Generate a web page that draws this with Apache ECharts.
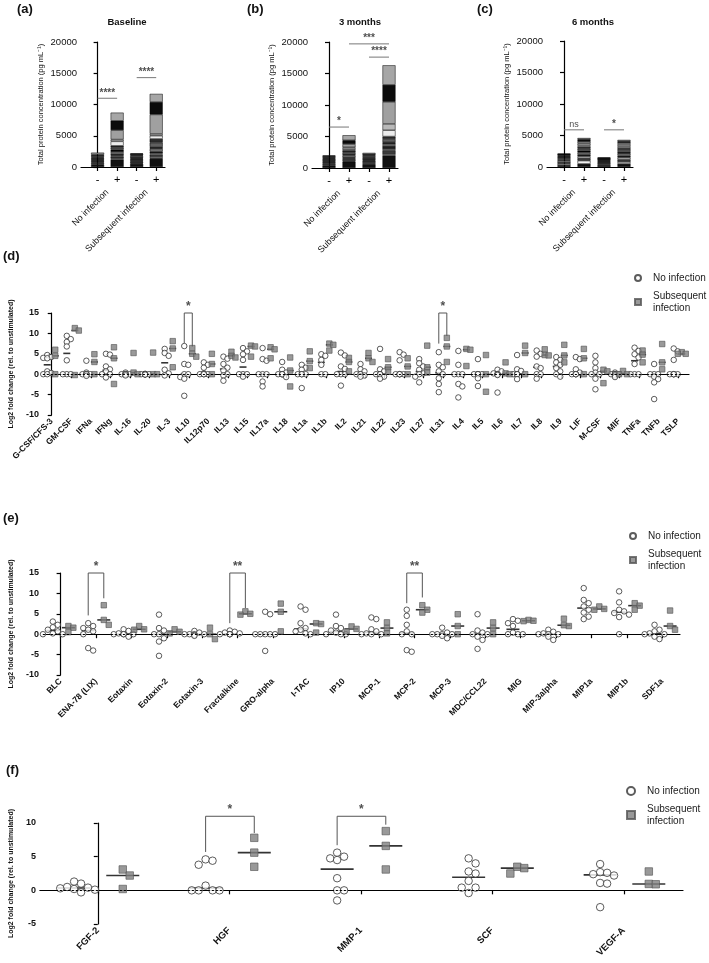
<!DOCTYPE html>
<html>
<head>
<meta charset="UTF-8">
<title>cytokine panels</title>
<script src="https://cdn.jsdelivr.net/npm/echarts@6/dist/echarts.min.js"></script>
<style>
html, body { margin: 0; padding: 0; background: #fff; }
#fig { width: 709px; height: 963px; }
</style>
</head>
<body>
<div id="fig"></div>
<script>
// ---------- (a)-(c) stacked totals ----------
var barCats = ['-', '+', '-', '+'];
var groupCats = ['No infection', 'Subsequent infection'];
var segColors = ['#111111', '#f2f2f2', '#3c3c3c', '#d6d6d6', '#1e1e1e', '#8a8a8a', '#050505',
                 '#606060', '#2c2c2c', '#ececec', '#b8b8b8', '#a0a0a0', '#0b0b0b', '#a6a6a6'];
// segment values bottom -> top, one list per bar
var baseSegs = [
    [400, 100, 200, 100, 150, 100, 150, 100, 150, 100, 150, 100, 200, 300],
    [1200, 150, 300, 150, 300, 300, 400, 300, 300, 700, 300, 1500, 1500, 1300],
    [500, 100, 200, 100, 150, 100, 150, 100, 150, 100, 150, 100, 200, 100],
    [1400, 200, 400, 200, 300, 400, 300, 700, 600, 500, 300, 3100, 2000, 1300]
];
var m3Segs = [
    [400, 100, 200, 100, 150, 100, 150, 100, 150, 100, 100, 100, 150, 100],
    [1000, 100, 300, 100, 200, 300, 200, 300, 300, 200, 300, 500, 600, 800],
    [600, 100, 200, 100, 150, 100, 150, 100, 150, 100, 150, 100, 200, 200],
    [2000, 200, 600, 200, 500, 300, 300, 500, 400, 1000, 1000, 3500, 2700, 3100]
];
var m6Segs = [
    [300, 200, 300, 200, 200, 150, 200, 100, 100, 100, 100, 50, 50, 50],
    [500, 500, 400, 300, 300, 300, 300, 300, 300, 200, 300, 300, 400, 200],
    [300, 100, 200, 100, 100, 100, 100, 100, 100, 50, 50, 50, 100, 50],
    [500, 300, 400, 300, 300, 300, 300, 300, 300, 200, 300, 300, 300, 200]
];
// [from bar, to bar, height, text]
var baseSig = [[0, 1, 11000, '****'], [2, 3, 14300, '****']];
var m3Sig = [[0, 1, 6500, '*'], [1, 3, 19700, '***'], [2, 3, 17600, '****']];
var m6Sig = [[0, 1, 5900, 'ns'], [2, 3, 5900, '*']];

// ---------- (d) ----------
var dCats = ['G-CSF/CFS-3', 'GM-CSF', 'IFNa', 'IFNg', 'IL-16', 'IL-20', 'IL-3', 'IL10', 'IL12p70', 'IL13',
             'IL15', 'IL17a', 'IL18', 'IL1a', 'IL1b', 'IL2', 'IL21', 'IL22', 'IL23', 'IL27', 'IL31', 'IL4',
             'IL5', 'IL6', 'IL7', 'IL8', 'IL9', 'LIF', 'M-CSF', 'MIF', 'TNFa', 'TNFb', 'TSLP'];
var dNone = [
    [4.7, 4.2, 4.0, 3.9, 0.7, 0.3, 0, 0], [9.4, 8.6, 7.9, 6.8, 3.4, 0, 0, 0], [3.3, 0.4, 0, 0, 0, -0.4, 0, 0],
    [5.0, 4.8, 1.9, 1.2, 0.7, 0, -0.8, 0], [0.4, 0, 0, -0.3, 0, 0, 0, 0], [0.1, 0, 0, 0, 0, 0, -0.1, 0],
    [6.2, 5.2, 4.5, 1.1, 0.2, -0.3], [6.9, 2.5, 2.3, 0, -0.7, -1.1, -5.3, 0], [2.9, 2.3, 1.6, 0.2, 0, 0, 0, 0],
    [4.3, 3.8, 2.5, 1.6, 0.9, -0.3, -1.6, 0], [6.4, 5.6, 4.9, 3.5, 0, -0.6, 0, 0], [6.4, 3.7, 3.3, 0, -1.8, -3.0, 0, 0],
    [3.0, 1.1, 0.4, 0, -0.7, 0, 0, 0], [2.3, 1.6, 1.1, 0, -3.4, 0, 0, 0], [4.9, 4.5, 3.5, 2.3, 0, 0],
    [5.3, 4.6, 1.9, 1.3, 0, -2.8, 0, 0], [2.5, 1.2, 0.7, 0, 0, -0.3, -0.6, 0], [6.2, 1.2, 0.7, -0.6, -1.1, 0, 0, 0],
    [5.4, 4.8, 3.4, 0, 0, 0, 0, 0], [3.7, 2.7, 1.9, 1.1, 0.2, -0.6, -2.0, 0], [5.4, 2.3, 1.7, 0.7, -1.0, -2.4, -4.4, 0],
    [5.7, 2.3, 0, -2.4, -3.0, -5.7, 0, 0], [3.7, 0, -1.0, -2.9, 0, 0, 0, 0], [1.1, 0.7, 0.2, -0.2, -4.5, 0, 0, 0],
    [4.7, 1.2, 0.8, 0, -1.2, 0, 0, 0], [5.8, 5.0, 4.3, 1.9, 1.5, -1.1, 0, 0], [4.2, 3.5, 2.9, 2.3, 1.5, 0.7, -0.6, 0],
    [4.2, 3.7, 1.2, 0.4, 0, 0, 0, 0], [4.5, 2.9, 1.5, 0.4, 0, -1.1, -3.7, 0], [0.4, 0, -0.3, -0.7, 0, 0, 0, 0],
    [6.5, 5.7, 4.9, 4.1, 2.5, 0, 0, 0], [2.5, 0, -0.6, -1.2, -2.0, -6.1, 0, 0], [6.3, 5.6, 3.5, 0, 0, 0, 0, 0]
];
var dSub = [
    [6.0, 4.5, 0], [11.3, 10.7, -0.2], [4.9, 3.0, 0], [6.6, 3.9, -2.4], [5.2, 0.4, 0], [5.3, 0, 0],
    [8.1, 6.3, 1.7], [6.4, 5.0, 4.3], [5.0, 2.5, 0], [5.5, 4.5, 4.1], [7.0, 6.8, 4.3], [6.6, 6.1, 3.9],
    [4.1, 0.9, -3.0], [5.6, 3.2, 1.5], [7.5, 7.2, 5.8], [4.0, 3.0, 0.7], [5.2, 3.9, 3.0], [3.7, 1.7, 0.6],
    [3.9, 1.9, 0], [7.0, 1.7, 0.4], [8.9, 6.8, 3.0], [6.2, 6.0, 2.0], [4.7, 0, -4.3], [2.9, 0.2, 0],
    [7.0, 5.2, 0], [6.1, 4.7, 4.6], [7.2, 4.6, 2.9], [6.2, 3.9, 0], [1.1, 0.7, -2.2], [0.8, 0, 0],
    [5.8, 4.8, 2.9], [7.4, 2.9, 1.2], [5.4, 5.0, 5.0]
];
// [category, left foot, right foot, top, text]
var dSig = [[7, 7.6, 6.8, 15, '*'], [20, 7.5, 9.4, 15, '*']];

// ---------- (e) ----------
var eCats = ['BLC', 'ENA-78 (LIX)', 'Eotaxin', 'Eotaxin-2', 'Eotaxin-3', 'Fractalkine', 'GRO-alpha', 'I-TAC',
             'IP10', 'MCP-1', 'MCP-2', 'MCP-3', 'MDC/CCL22', 'MIG', 'MIP-3alpha', 'MIP1a', 'MIP1b', 'SDF1a'];
var eNone = [
    [3.1, 2.3, 1.7, 1.1, 0.7, 0.2, 0, 0], [2.7, 2.0, 1.5, 1.1, 0.7, 0, -3.4, -4.0], [1.2, 0.8, 0.2, 0, -0.6, 0, 0, 0],
    [4.8, 1.5, 0.9, 0, -1.0, -1.8, -5.3, 0], [0.8, 0.4, 0, -0.2, -0.4, 0, 0, 0], [0.9, 0.6, 0.4, 0.2, 0, 0, 0, 0],
    [5.5, 4.9, 0, 0, 0, -4.1, 0, 0], [6.8, 6.0, 2.7, 1.5, 1.1, 0.7, 0.2, 0], [4.8, 2.0, 1.5, 0.9, 0.4, 0, 0, 0],
    [4.1, 3.7, 1.2, 0.7, 0.2, 0, 0, 0], [6.0, 4.5, 2.3, 0.7, 0, -3.9, -4.3, 0], [1.6, 0.4, 0, -0.4, -1.0, 0, 0, 0],
    [4.9, 0.9, 0.4, 0, -0.6, -1.4, -3.6, 0], [3.7, 3.3, 2.7, 2.0, 0.4, 0, 0, 0], [1.1, 0.6, 0.2, 0, -0.6, -1.4, 0, 0],
    [11.3, 8.4, 7.6, 6.8, 6.0, 5.3, 4.3, 3.7], [10.5, 7.8, 6.0, 5.6, 5.2, 4.8, 4.2, 0], [2.3, 1.1, 0.7, 0.2, 0, -0.6, -1.2, 0]
];
var eSub = [
    [2.0, 1.6, 0.5], [7.1, 3.5, 2.3], [2.0, 1.2, 1.1], [1.2, 0.6, 0.2], [1.6, 0, -1.2], [5.6, 5.0, 4.8],
    [7.5, 5.5, 0.7], [2.7, 2.5, 0.4], [1.9, 1.3, 0.7], [2.9, 1.5, 0.2], [7.1, 6.0, 5.3], [4.9, 2.0, 0],
    [2.9, 1.5, 0], [3.5, 3.3, 3.2], [3.8, 2.2, 2.0], [6.8, 6.2, 6.0], [7.6, 7.0, 6.0], [5.8, 2.0, 1.1]
];
var eSig = [[1, 4.6, 8.8, 15, '*'], [5, 2.7, 6.4, 15, '**'], [10, 7.6, 9.0, 15, '**']];

// ---------- (f) ----------
var fCats = ['FGF-2', 'HGF', 'MMP-1', 'SCF', 'VEGF-A'];
var fNone = [
    [0.1, 0.4, 1.0, 1.3, 0.2, 0.3, 0.5, -0.3], [4.6, 3.8, 4.4, 0.7, 0, 0, 0, 0],
    [5.6, 4.5, 5.0, 4.75, 1.8, 0, 0, -1.5], [4.0, 4.75, 2.5, 2.8, 1.4, 0.4, 0.4, -0.4],
    [3.9, 2.6, 2.2, 2.7, 2.4, 1.1, 1.0, -2.5]
];
var fSub = [[3.1, 2.2, 0.2], [7.8, 5.6, 3.5], [8.8, 6.6, 3.1], [3.5, 3.3, 2.5], [2.8, 0.95, 0.9]];
var fSig = [[1, 5.7, 8.5, 11, '*'], [2, 6.7, 9.75, 11, '*']];

var FONT = 'Liberation Sans, Arial, sans-serif';
var grids = [], xAxes = [], yAxes = [], series = [];

function median(a) {
    var s = a.slice().sort(function (p, q) { return p - q; });
    var m = Math.floor(s.length / 2);
    return s.length % 2 ? s[m] : (s[m - 1] + s[m]) / 2;
}

// spread overlapping dots sideways (pixel based), like a column scatter
function swarm(lists, off, xPx, yPx, step, maxK) {
    var out = [];
    lists.forEach(function (vals, ci) {
        var placed = [];
        vals.slice().sort(function (a, b) { return b - a; }).forEach(function (v) {
            var py = v * yPx, best = 0;
            for (var k = 0; k <= 2 * maxK; k++) {
                var kk = k === 0 ? 0 : (k % 2 ? (k + 1) / 2 : -k / 2);
                var px = kk * step;
                var free = placed.every(function (q) { return Math.hypot(q[0] - px, q[1] - py) >= step; });
                if (free) { best = px; break; }
            }
            placed.push([best, py]);
            out.push([ci + off + best / xPx, v]);
        });
    });
    return out;
}

function range(n) { var r = []; for (var i = 0; i < n; i++) r.push(i); return r; }

// text-only point used for the significance marks
function starSeries(xi, yi, x, y, txt, size) {
    return {
        type: 'scatter', xAxisIndex: xi, yAxisIndex: yi, silent: true, clip: false, z: 6,
        symbolSize: 1, itemStyle: { color: 'rgba(0,0,0,0)' },
        data: [{ value: [x, y], name: txt }],
        label: { show: true, position: 'top', distance: 0, formatter: '{b}',
                 fontSize: txt === 'ns' ? 9 : size,
                 fontWeight: txt === 'ns' ? 'normal' : 'bold', color: '#222' }
    };
}

var BMIN = -0.85, BMAX = 3.45;

// ---- bar panels: one grid for the visible axes, one hidden category grid for the stacks ----
function barPanel(box, segs, sig) {
    var gi = grids.length;
    var unit = box.width / (BMAX - BMIN);
    grids.push(box);
    grids.push({ left: box.left + (0.5 + BMIN) * -unit, top: box.top, width: 4 * unit, height: box.height });
    var xi = xAxes.length, yi = yAxes.length;
    xAxes.push({
        type: 'value', gridIndex: gi, min: BMIN, max: BMAX, position: 'bottom',
        axisLine: { lineStyle: { color: '#000', width: 1.2 } },
        axisTick: { customValues: [0, 1, 2, 3], length: 4, lineStyle: { color: '#000', width: 1.2 } },
        axisLabel: { customValues: [0, 1, 2, 3], formatter: function (v) { return barCats[Math.round(v)]; },
                     fontSize: 11, color: '#000', margin: 7 },
        splitLine: { show: false }
    });
    xAxes.push({
        type: 'value', gridIndex: gi, min: BMIN, max: BMAX, position: 'bottom', offset: 0,
        axisLine: { show: false }, axisTick: { show: false }, splitLine: { show: false },
        axisLabel: { customValues: [0.5, 2.5], formatter: function (v) { return groupCats[Math.round((v - 0.5) / 2)]; },
                     rotate: 45, fontSize: 9, color: '#111', margin: 24 }
    });
    xAxes.push({ type: 'category', gridIndex: gi + 1, data: barCats, show: false });
    yAxes.push({
        type: 'value', gridIndex: gi, min: 0, max: 20000, interval: 5000,
        name: 'Total protein concentration (pg mL\u207B\u00B9)', nameLocation: 'middle', nameGap: 36,
        nameTextStyle: { fontSize: 7.5, color: '#111' },
        axisLine: { show: true, lineStyle: { color: '#000', width: 1.2 } },
        axisTick: { show: true, length: 4, lineStyle: { color: '#000', width: 1.2 } },
        axisLabel: { fontSize: 9.5, color: '#111', margin: 4, formatter: function (v) { return String(v); } },
        splitLine: { show: false }
    });
    yAxes.push({ type: 'value', gridIndex: gi + 1, min: 0, max: 20000, show: false });
    for (var s = 0; s < segColors.length; s++) {
        series.push({
            type: 'bar', xAxisIndex: xi + 2, yAxisIndex: yi + 1, stack: 'tot' + gi, barWidth: 13, silent: true,
            data: segs.map(function (b) { return b[s]; }),
            itemStyle: { color: segColors[s], borderColor: '#000', borderWidth: 0.5 }
        });
    }
    sig.forEach(function (g) {
        series.push({
            type: 'line', xAxisIndex: xi, yAxisIndex: yi, silent: true, symbol: 'none', clip: false,
            data: [[g[0], g[2]], [g[1], g[2]]], lineStyle: { color: '#777', width: 1 }
        });
        series.push(starSeries(xi, yi, (g[0] + g[1]) / 2, g[2], g[3], 10));
    });
}

// ---- dot panels ----
function dotPanel(box, p) {
    var gi = grids.length;
    grids.push(box);
    var xi = xAxes.length, yi = yAxes.length;
    var idx = range(p.cats.length);
    xAxes.push({
        type: 'value', gridIndex: gi, min: p.xmin, max: p.xmax, position: 'bottom',
        axisLine: { lineStyle: { color: '#000', width: 1.2 } },
        axisTick: { customValues: idx, length: 4, lineStyle: { color: '#000', width: 1.2 } },
        axisLabel: { customValues: idx, formatter: function (v) { return p.cats[Math.round(v)]; },
                     rotate: 45, fontSize: p.xFont, fontWeight: 'bold', color: '#111', margin: 5 },
        splitLine: { show: false }
    });
    yAxes.push({
        type: 'value', gridIndex: gi, min: p.ymin, max: p.ymax, interval: 5,
        name: 'Log2 fold change (rel. to unstimulated)', nameLocation: 'middle', nameGap: p.nameGap,
        nameTextStyle: { fontSize: 7, fontWeight: 'bold', color: '#111' },
        axisLine: { show: true, lineStyle: { color: '#000', width: 1.2 } },
        axisTick: { show: true, length: 4, lineStyle: { color: '#000', width: 1.2 } },
        axisLabel: { fontSize: 9, fontWeight: 'bold', color: '#111', margin: 4 },
        splitLine: { show: false }
    });
    var base = { xAxisIndex: xi, yAxisIndex: yi, silent: true };
    // medians
    [[p.none, p.offN], [p.sub, p.offS]].forEach(function (g) {
        series.push(Object.assign({
            type: 'scatter', symbol: 'rect', symbolSize: [p.medW, 1.6], z: 2,
            itemStyle: { color: '#000' },
            data: g[0].map(function (vals, i) { return [i + g[1], median(vals)]; })
        }, base));
    });
    series.push(Object.assign({
        type: 'scatter', name: 'No infection', symbol: 'circle', symbolSize: p.size, z: 3,
        itemStyle: { color: '#fff', borderColor: '#333', borderWidth: 1 },
        data: swarm(p.none, p.offN, p.xPx, p.yPx, p.step, p.maxK),
        markLine: {
            silent: true, symbol: ['none', 'none'], label: { show: false },
            lineStyle: { type: [2, 2], color: '#000', width: 1 }, data: [{ yAxis: 0 }]
        }
    }, base));
    series.push(Object.assign({
        type: 'scatter', name: 'Subsequent infection', symbol: 'rect', symbolSize: p.size, z: 4,
        itemStyle: { color: '#808080', borderColor: '#555', borderWidth: 0.8 },
        data: swarm(p.sub, p.offS, p.xPx, p.yPx, p.step, p.maxK)
    }, base));
    // significance brackets
    p.sig.forEach(function (g) {
        var xl = g[0] + p.offN, xr = g[0] + p.offS;
        series.push(Object.assign({
            type: 'line', symbol: 'none', clip: false, z: 5,
            data: [[xl, g[1]], [xl, g[3]], [xr, g[3]], [xr, g[2]]],
            lineStyle: { color: '#555', width: 1 }
        }, base));
        series.push(starSeries(xi, yi, (xl + xr) / 2, g[3], g[4], 12));
    });
}

barPanel({ left: 81, top: 42, width: 84, height: 125 }, baseSegs, baseSig);
barPanel({ left: 312, top: 42, width: 86, height: 126 }, m3Segs, m3Sig);
barPanel({ left: 547, top: 41, width: 86, height: 126 }, m6Segs, m6Sig);

dotPanel({ left: 39, top: 313, width: 650, height: 102 }, {
    cats: dCats, none: dNone, sub: dSub, sig: dSig, xmin: -0.45, xmax: 32.55, ymin: -10, ymax: 15,
    offN: -0.23, offS: 0.18, xPx: 19.7, yPx: 4.08, step: 4, maxK: 1, size: 5.5, medW: 7,
    xFont: 8.5, nameGap: 26
});
dotPanel({ left: 36, top: 573, width: 644, height: 102 }, {
    cats: eCats, none: eNone, sub: eSub, sig: eSig, xmin: -0.5, xmax: 17.5, ymin: -10, ymax: 15,
    offN: -0.22, offS: 0.22, xPx: 35.8, yPx: 4.1, step: 5, maxK: 2, size: 5.5, medW: 13,
    xFont: 8.5, nameGap: 22
});
dotPanel({ left: 35, top: 823, width: 648, height: 101 }, {
    cats: fCats, none: fNone, sub: fSub, sig: fSig, xmin: -0.44, xmax: 4.45, ymin: -5, ymax: 10,
    offN: -0.18, offS: 0.19, xPx: 132.5, yPx: 6.73, step: 7, maxK: 3, size: 7.5, medW: 33,
    xFont: 9.5, nameGap: 19
});

function legendAt(left, top, size) {
    return {
        left: left, top: top, orient: 'vertical', itemWidth: size, itemHeight: size, itemGap: 0,
        padding: 0, selectedMode: false,
        textStyle: { fontSize: 10, color: '#222', lineHeight: 12, padding: [0, 0, 0, 7] },
        data: [
            { name: 'No infection' },
            { name: 'Subsequent infection', textStyle: { padding: [12, 0, 0, 7] } }
        ],
        formatter: function (n) { return n === 'Subsequent infection' ? 'Subsequent\ninfection' : n; }
    };
}

function label(txt, x, y, size) {
    return { type: 'text', x: x, y: y, silent: true,
             style: { text: txt, font: 'bold ' + size + 'px ' + FONT, fill: '#111',
                      align: 'left', verticalAlign: 'middle' } };
}
function title(txt, x, y) {
    return { type: 'text', x: x, y: y, silent: true,
             style: { text: txt, font: 'bold 9.5px ' + FONT, fill: '#111',
                      align: 'center', verticalAlign: 'middle' } };
}

var chart = echarts.init(document.getElementById('fig'), null, { renderer: 'canvas' });
chart.setOption({
    animation: false,
    textStyle: { fontFamily: FONT },
    grid: grids,
    xAxis: xAxes,
    yAxis: yAxes,
    legend: [legendAt(634, 272, 6), legendAt(629, 530, 6), legendAt(626, 785, 8)],
    graphic: [
        label('(a)', 17, 9, 13), label('(b)', 247, 9, 13), label('(c)', 477, 9, 13),
        label('(d)', 3, 256, 13), label('(e)', 3, 518, 13), label('(f)', 6, 770, 13),
        title('Baseline', 127, 22), title('3 months', 360, 22), title('6 months', 593, 22)
    ],
    series: series
});
</script>
</body>
</html>
